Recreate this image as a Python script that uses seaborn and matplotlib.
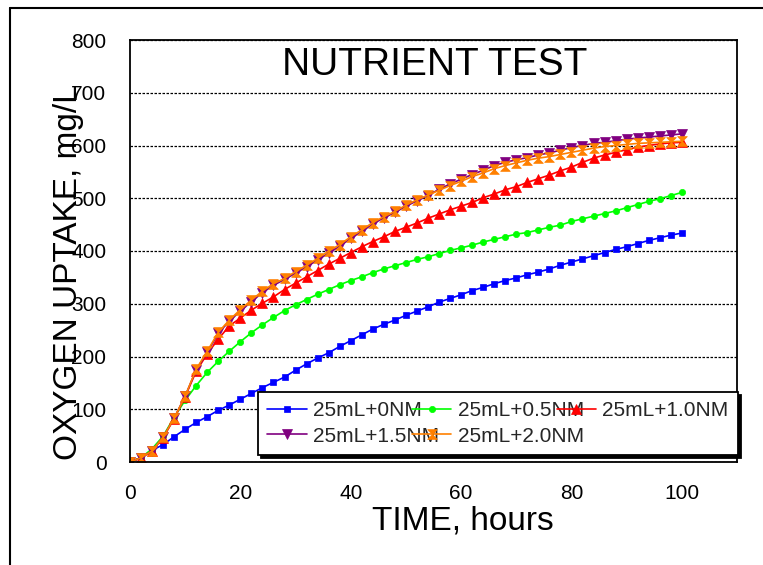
import matplotlib
matplotlib.use("Agg")
import matplotlib.pyplot as plt
from matplotlib.path import Path
from matplotlib.lines import Line2D
from matplotlib.ticker import MultipleLocator
import seaborn as sns

hours = [0, 2, 4, 6, 8, 10, 12, 14, 16, 18, 20, 22, 24, 26, 28, 30, 32, 34, 36, 38,
         40, 42, 44, 46, 48, 50, 52, 54, 56, 58, 60, 62, 64, 66, 68, 70, 72, 74, 76, 78,
         80, 82, 84, 86, 88, 90, 92, 94, 96, 98, 100]

nm_0_0 = [0, 8, 22, 33, 48, 62, 75, 86, 98, 108, 119, 130, 141, 151, 161, 174, 186, 197, 207, 219,
          230, 241, 252, 261, 269, 278, 286, 294, 303, 310, 317, 325, 331, 338, 344, 349, 355, 360, 366, 373,
          379, 385, 391, 397, 403, 408, 414, 420, 425, 430, 434]
nm_0_5 = [0, 8, 25, 49, 85, 117, 145, 170, 191, 210, 228, 245, 260, 274, 287, 298, 308, 318, 327, 336,
          344, 351, 359, 366, 372, 378, 384, 389, 395, 401, 406, 411, 417, 422, 427, 432, 435, 440, 445, 449,
          456, 461, 466, 471, 476, 482, 488, 494, 499, 505, 511]
nm_1_0 = [0, 8, 21, 46, 82, 124, 172, 205, 233, 258, 273, 288, 301, 313, 327, 339, 351, 363, 375, 386,
          397, 408, 418, 427, 437, 445, 453, 462, 470, 478, 485, 492, 501, 508, 516, 522, 530, 537, 544, 552,
          559, 568, 576, 582, 587, 592, 597, 600, 603, 605, 606]
nm_1_5 = [0, 8, 21, 47, 83, 125, 175, 208, 244, 267, 286, 304, 321, 335, 346, 358, 370, 383, 396, 409,
          424, 437, 451, 463, 473, 485, 495, 505, 517, 527, 536, 545, 553, 562, 568, 573, 577, 582, 586, 591,
          596, 600, 604, 606, 609, 612, 614, 616, 618, 620, 622]
nm_2_0 = [0, 8, 21, 47, 83, 125, 176, 210, 246, 269, 289, 307, 324, 338, 348, 361, 373, 386, 400, 412,
          427, 440, 454, 465, 475, 487, 497, 506, 515, 524, 532, 541, 548, 556, 562, 567, 572, 576, 579, 583,
          587, 591, 595, 598, 600, 602, 604, 605, 606, 607, 608]

labels = ["25mL+0NM", "25mL+0.5NM", "25mL+1.0NM", "25mL+1.5NM", "25mL+2.0NM"]
series = [nm_0_0, nm_0_5, nm_1_0, nm_1_5, nm_2_0]
colors = ["#0000FF", "#00FF00", "#FF0000", "#800080", "#FF8000"]

hourglass = Path([(-1, 1), (1, 1), (-1, -1), (1, -1), (-1, 1)],
                 [Path.MOVETO, Path.LINETO, Path.LINETO, Path.LINETO, Path.CLOSEPOLY])
markers = ["s", "o", "^", "v", hourglass]
msizes = [4.5, 4.5, 7, 7, 7]

sns.set_theme(style="white")
plt.rcParams["font.family"] = ["Liberation Sans", "DejaVu Sans"]

fig = plt.figure(figsize=(7.63, 5.65), dpi=100)
W, H = 763, 565
ax = fig.add_axes([130 / W, 1 - 462 / H, (737 - 130) / W, (462 - 40) / H])

for lab, vals, col, mk, ms in zip(labels, series, colors, markers, msizes):
    sns.lineplot(x=hours, y=vals, ax=ax, color=col, marker=mk, markersize=ms,
                 markeredgecolor=col, markerfacecolor=col, markeredgewidth=0.5,
                 linewidth=1.2, label=lab)

ax.set_xlim(0, 110)
ax.set_ylim(0, 800)
ax.xaxis.set_major_locator(MultipleLocator(20))
ax.xaxis.set_minor_locator(MultipleLocator(5))
ax.yaxis.set_major_locator(MultipleLocator(100))
ax.yaxis.set_minor_locator(MultipleLocator(50))

ax.tick_params(axis="x", which="major", direction="inout", length=11, width=1.2,
               colors="black", labelsize=15, pad=10)
ax.tick_params(axis="x", which="minor", direction="inout", length=7, width=1.0, colors="black")
ax.tick_params(axis="y", which="major", direction="inout", length=10, width=1.2,
               colors="black", labelsize=15, pad=12)
ax.tick_params(axis="y", which="minor", direction="inout", length=7, width=1.0, colors="black")
ax.set_xticks([0, 20, 40, 60, 80, 100])
ax.set_xticks([5, 10, 15, 25, 30, 35, 45, 50, 55, 65, 70, 75, 85, 90, 95, 105, 110], minor=True)

ax.yaxis.grid(True, which="major", color="black", linestyle=(0, (2, 1.2)), linewidth=0.9)
ax.xaxis.grid(False)
for sp in ax.spines.values():
    sp.set_color("black")
    sp.set_linewidth(1.3)

ax.text(0.502, 0.94, "NUTRIENT TEST", transform=ax.transAxes, ha="center", va="center",
        fontsize=28, color="black")

ax.set_xlabel("TIME, hours", fontsize=24, color="black")
ax.xaxis.set_label_coords((463 - 130) / 607, (462 - 506) / 422)
ax.set_ylabel("OXYGEN UPTAKE, mg/L", fontsize=24, color="black")
ax.yaxis.set_label_coords((84 - 130) / 607, (462 - 272) / 422)

# legend laid out row by row: row 1 = first three series, row 2 = last two
handles, labs = ax.get_legend_handles_labels()
order = [0, 3, 1, 4, 2]
leg = ax.legend([handles[i] for i in order], [labs[i] for i in order],
                loc="lower left", mode="expand",
                bbox_to_anchor=((258 - 130) / 607, (462 - 455) / 422, (738 - 258) / 607, 61 / 422),
                borderaxespad=0, ncol=3, fontsize=15, frameon=True, fancybox=False,
                shadow={"color": "black", "alpha": 1.0}, handlelength=1.9, handletextpad=0.3,
                columnspacing=-0.6, labelspacing=0.3, borderpad=0.45, markerscale=1.0)
leg.get_frame().set_edgecolor("black")
leg.get_frame().set_linewidth(1.3)
leg.get_frame().set_alpha(1.0)

fig.add_artist(Line2D([10 / W, 10 / W], [0, 1 - 8 / H], transform=fig.transFigure,
                      color="black", linewidth=1.5))
fig.add_artist(Line2D([10 / W, 1.0], [1 - 8 / H, 1 - 8 / H], transform=fig.transFigure,
                      color="black", linewidth=1.5))

fig.savefig("out.png", dpi=100)
